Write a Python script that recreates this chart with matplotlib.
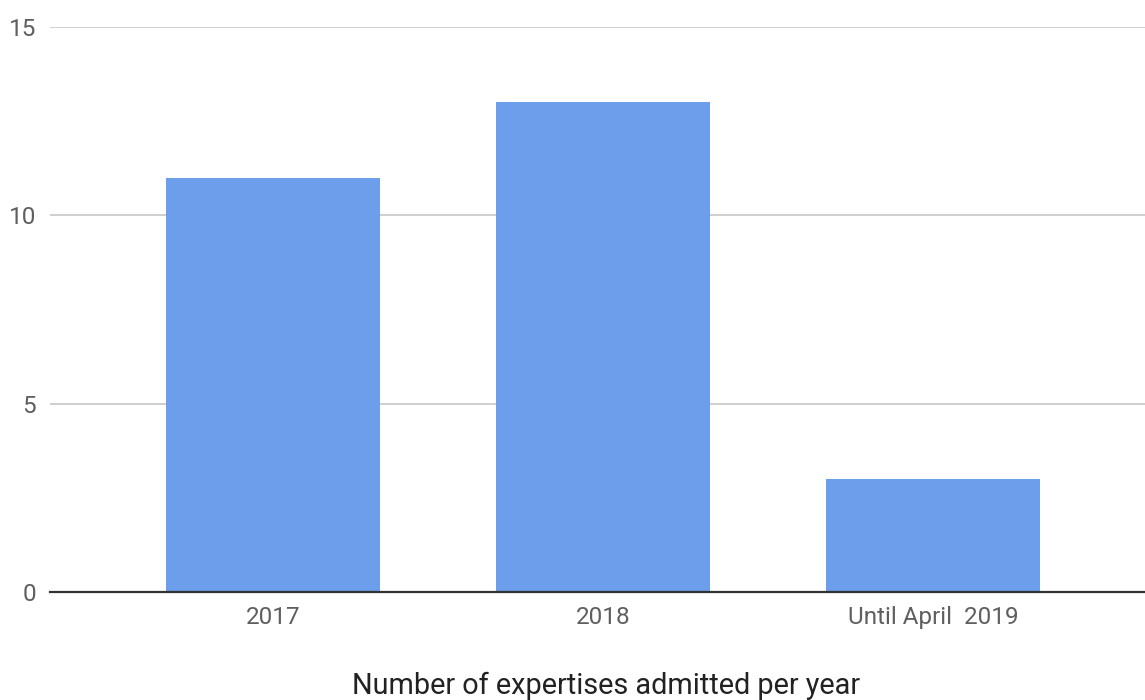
import matplotlib.pyplot as plt

categories = ['2017', '2018', 'Until April  2019']
values = [11, 13, 3]
yticks = [0, 5, 10, 15]
title = 'Number of expertises admitted per year'

plt.rcParams['font.family'] = ['Roboto', 'DejaVu Sans']

fig = plt.figure(figsize=(11.45, 7.0), dpi=100)
# axes placed in pixels: left 50, right 1145, y=0 at 592, y=15 at 27
W, H = 1145.0, 700.0
ax = fig.add_axes([50 / W, (H - 592) / H, 1095 / W, (592 - 27) / H])

bar_color = '#6d9eeb'
x = list(range(len(categories)))
ax.bar(x, values, width=0.65, color=bar_color, zorder=3)

ax.set_xlim((50 - 273) / 330, (1145 - 273) / 330)
ax.set_ylim(0, 15)

ax.set_yticks(yticks)
ax.set_yticklabels([str(t) for t in yticks])
ax.set_xticks(x)
ax.set_xticklabels(categories)
ax.tick_params(axis='both', length=0, labelsize=17.5, colors='#5f5f5f')
ax.tick_params(axis='y', pad=10)
ax.tick_params(axis='x', pad=10)

ax.yaxis.grid(True, color='#cccccc', linewidth=1.3, zorder=0)
ax.set_axisbelow(True)
for s in ['top', 'right', 'left']:
    ax.spines[s].set_visible(False)
ax.spines['bottom'].set_color('#333333')
ax.spines['bottom'].set_linewidth(1.6)
ax.spines['bottom'].set_zorder(4)

fig.text(606 / W, 1 - 686 / H, title, ha='center', va='center',
         fontsize=20.8, color='#222222')

fig.savefig('out.png', dpi=100, facecolor='white')
